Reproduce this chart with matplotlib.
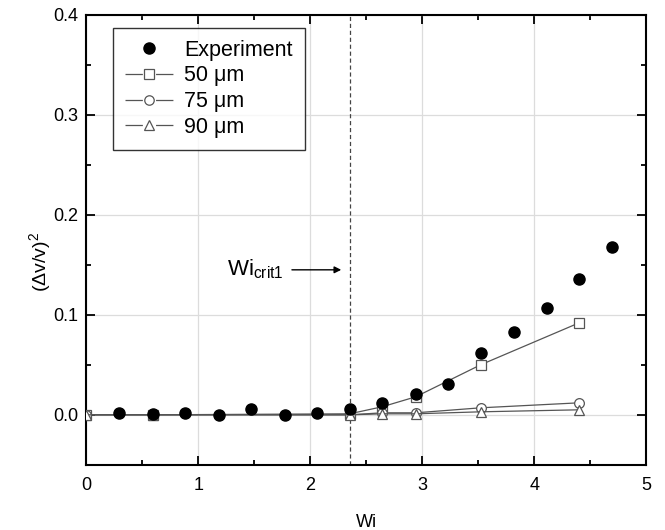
import matplotlib
matplotlib.use("Agg")
import matplotlib.pyplot as plt
from matplotlib.lines import Line2D
from matplotlib.legend_handler import HandlerTuple
from matplotlib.ticker import MultipleLocator

plt.rcParams['font.family'] = ['Liberation Sans', 'DejaVu Sans']
plt.rcParams['mathtext.fontset'] = 'custom'
plt.rcParams['mathtext.rm'] = 'Liberation Sans'
plt.rcParams['lines.scale_dashes'] = False

# experiment
exp_wi = [0.29, 0.59, 0.88, 1.18, 1.47, 1.77, 2.06, 2.35, 2.64, 2.94, 3.23, 3.52, 3.82, 4.11, 4.40, 4.69]
exp_val = [0.002, 0.001, 0.002, 0.000, 0.006, 0.000, 0.002, 0.006, 0.012, 0.021, 0.031, 0.062, 0.083, 0.107, 0.136, 0.168]

# simulations
sim_wi = [0.0, 0.59, 2.35, 2.64, 2.94, 3.52, 4.40]
sim_50 = [0.0, 0.0, 0.001, 0.008, 0.018, 0.050, 0.092]
sim_75 = [0.0, 0.0, 0.0, 0.002, 0.002, 0.007, 0.012]
sim_90 = [0.0, 0.0, 0.0, 0.001, 0.001, 0.003, 0.005]
sim_labels = [u'50 \u03bcm', u'75 \u03bcm', u'90 \u03bcm']
sim_markers = ['s', 'o', '^']

wi_crit1 = 2.35

fig = plt.figure(figsize=(6.65, 5.3), dpi=100)
ax = fig.add_axes([0.130, 0.123, 0.842, 0.849])

ax.grid(True, color='#dcdcdc', linewidth=0.9, zorder=0)

gray = '#555555'
handles = []
for ys, mk, lab in zip([sim_50, sim_75, sim_90], sim_markers, sim_labels):
    ax.plot(sim_wi, ys, marker=mk, color=gray, linewidth=0.9, markersize=7,
            markerfacecolor='white', markeredgecolor=gray, markeredgewidth=0.9, zorder=3)
    # legend handle: -marker- with gaps
    seg = Line2D([], [], color=gray, linewidth=0.9, linestyle=(0, (12.5, 9.5, 12.5, 50)))
    mrk = Line2D([], [], color=gray, linestyle='none', marker=mk, markersize=6.8,
                 markerfacecolor='white', markeredgecolor=gray, markeredgewidth=0.9)
    handles.append((seg, mrk))
exp_h, = ax.plot(exp_wi, exp_val, 'o', color='black', markersize=8, zorder=4)

ax.axvline(wi_crit1, color='#444444', linestyle=(0, (3, 2)), linewidth=0.9, zorder=2)
ax.annotate('', xy=(wi_crit1 - 0.05, 0.145), xytext=(1.81, 0.145),
            arrowprops=dict(arrowstyle='-|>', color='black', lw=1.0, mutation_scale=10))
ax.text(1.255, 0.146, r'Wi$_{\mathregular{crit1}}$', fontsize=16, va='center', ha='left')

ax.set_xlim(0, 5)
ax.set_ylim(-0.05, 0.4)
ax.xaxis.set_major_locator(MultipleLocator(1))
ax.xaxis.set_minor_locator(MultipleLocator(0.5))
ax.yaxis.set_minor_locator(MultipleLocator(0.05))
ax.set_yticks([0.0, 0.1, 0.2, 0.3, 0.4])
ax.set_yticklabels(['0.0', '0.1', '0.2', '0.3', '0.4'])
ax.tick_params(which='both', direction='in', top=True, right=True, labelsize=13)
ax.tick_params(which='major', length=6.5, width=1.3)
ax.tick_params(which='minor', length=3.6, width=1.3)
ax.tick_params(axis='x', pad=9)
ax.tick_params(axis='y', pad=6)
for s in ax.spines.values():
    s.set_linewidth(1.5)

ax.set_xlabel('Wi', fontsize=13, labelpad=14)
ax.set_ylabel(r'($\Delta$v/v)$^\mathregular{2}$', fontsize=14)
ax.yaxis.set_label_coords(-0.058, 0.45)

leg = ax.legend([exp_h] + handles, ['Experiment'] + sim_labels, loc='upper left',
                bbox_to_anchor=(0.048, 0.971), fontsize=15.5, frameon=True, fancybox=False,
                edgecolor='black', handlelength=2.25, handletextpad=0.5, borderpad=0.55,
                labelspacing=0.22, borderaxespad=0,
                handler_map={tuple: HandlerTuple(ndivide=1, pad=0)})
leg.get_frame().set_linewidth(1.0)

fig.savefig('out.png', dpi=100)
